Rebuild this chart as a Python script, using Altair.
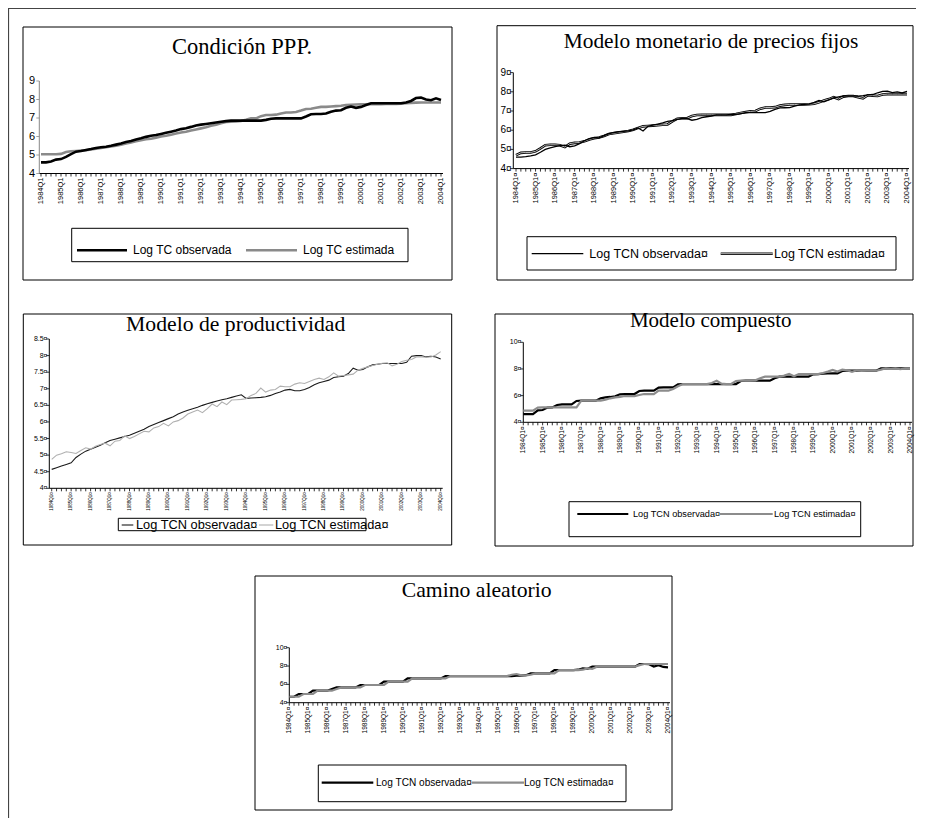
import altair as alt
import pandas as pd

YEARS = list(range(1984, 2005))
Q = list(range(81))  # 1984Q1 .. 2004Q1

# ---------------- data ----------------
P1_OBS = [4.60, 4.60, 4.65, 4.75, 4.78,
          4.90, 5.05, 5.18, 5.22, 5.27, 5.32, 5.38, 5.42, 5.45, 5.50, 5.56, 5.62,
          5.70, 5.76, 5.84, 5.90, 5.98, 6.04, 6.08, 6.14, 6.20, 6.26, 6.32, 6.40,
          6.45, 6.52, 6.60, 6.64, 6.68, 6.72, 6.76, 6.80, 6.83, 6.86, 6.86, 6.86,
          6.86, 6.86, 6.86, 6.86, 6.90, 6.96, 6.98, 6.98, 6.98, 6.98, 6.98, 6.98,
          7.08, 7.20, 7.22, 7.22, 7.24, 7.34, 7.40, 7.42, 7.55, 7.62, 7.55, 7.60,
          7.70, 7.80, 7.80, 7.80, 7.80, 7.80, 7.80, 7.80, 7.84, 7.92, 8.08, 8.10,
          8.00, 7.96, 8.06, 7.97]
P1_EST = [5.04, 5.04, 5.04, 5.04, 5.06,
          5.16, 5.20, 5.22, 5.24, 5.26, 5.30, 5.34, 5.38, 5.42, 5.46, 5.50, 5.56,
          5.62, 5.68, 5.74, 5.80, 5.85, 5.88, 5.94, 6.00, 6.04, 6.10, 6.16, 6.22,
          6.26, 6.32, 6.38, 6.44, 6.50, 6.58, 6.64, 6.72, 6.78, 6.80, 6.82, 6.84,
          6.90, 6.98, 6.98, 7.10, 7.16, 7.16, 7.18, 7.24, 7.30, 7.30, 7.32, 7.40,
          7.49, 7.50, 7.55, 7.60, 7.60, 7.62, 7.64, 7.66, 7.70, 7.72, 7.73, 7.74,
          7.74, 7.75, 7.75, 7.75, 7.76, 7.76, 7.76, 7.77, 7.80, 7.82, 7.83, 7.84,
          7.84, 7.84, 7.84, 7.84]

P2_OBS = [4.60, 4.60, 4.62, 4.66, 4.72,
          4.85, 5.00, 5.08, 5.15, 5.20, 5.22, 5.14, 5.18, 5.30, 5.45, 5.56, 5.62,
          5.60, 5.72, 5.82, 5.88, 5.92, 5.94, 5.96, 6.02, 6.12, 5.96, 6.20, 6.26,
          6.32, 6.38, 6.46, 6.50, 6.56, 6.62, 6.60, 6.52, 6.56, 6.66, 6.70, 6.74,
          6.80, 6.80, 6.80, 6.82, 6.82, 6.86, 6.92, 6.92, 6.92, 6.92, 6.92, 6.98,
          7.08, 7.16, 7.17, 7.18, 7.25, 7.32, 7.34, 7.36, 7.45, 7.55, 7.48, 7.58,
          7.68, 7.74, 7.78, 7.78, 7.78, 7.78, 7.80, 7.84, 7.86, 7.95, 8.02, 8.03,
          7.96, 8.00, 7.94, 8.02]
P2_EST = [4.70, 4.82, 4.84, 4.84, 4.90,
          5.05, 5.22, 5.24, 5.24, 5.22, 5.12, 5.30, 5.34, 5.36, 5.42, 5.52, 5.58,
          5.62, 5.70, 5.80, 5.84, 5.88, 5.92, 5.96, 6.02, 6.12, 6.20, 6.22, 6.24,
          6.26, 6.28, 6.30, 6.46, 6.60, 6.62, 6.62, 6.74, 6.79, 6.80, 6.80, 6.80,
          6.80, 6.80, 6.80, 6.80, 6.84, 6.90, 6.94, 6.98, 7.00, 7.12, 7.18, 7.18,
          7.20, 7.28, 7.32, 7.34, 7.34, 7.34, 7.34, 7.35, 7.38, 7.45, 7.55, 7.62,
          7.72, 7.62, 7.75, 7.78, 7.78, 7.72, 7.66, 7.82, 7.80, 7.78, 7.86, 7.88,
          7.88, 7.88, 7.88, 7.88]

P3_OBS = [4.57, 4.62, 4.67, 4.72, 4.77,
          4.93, 5.03, 5.12, 5.18, 5.24, 5.30, 5.37, 5.44, 5.48, 5.52, 5.56, 5.60,
          5.66, 5.72, 5.78, 5.86, 5.92, 5.98, 6.04, 6.10, 6.16, 6.24, 6.30, 6.35,
          6.40, 6.44, 6.50, 6.55, 6.59, 6.63, 6.67, 6.70, 6.74, 6.78, 6.82, 6.71,
          6.72, 6.73, 6.74, 6.76, 6.80, 6.86, 6.90, 6.96, 6.98, 6.94, 6.94, 6.98,
          7.04, 7.12, 7.18, 7.22, 7.26, 7.34, 7.36, 7.38, 7.46, 7.62, 7.56, 7.58,
          7.66, 7.72, 7.74, 7.76, 7.76, 7.76, 7.76, 7.76, 7.80, 7.98, 8.00, 8.00,
          7.96, 7.98, 7.96, 7.90]
P3_EST = [4.87, 5.00, 5.04, 5.10, 5.08,
          5.05, 5.14, 5.22, 5.18, 5.27, 5.32, 5.36, 5.28, 5.42, 5.44, 5.58, 5.50,
          5.56, 5.64, 5.72, 5.70, 5.82, 5.86, 5.96, 5.88, 6.00, 6.04, 6.12, 6.24,
          6.30, 6.36, 6.28, 6.40, 6.54, 6.46, 6.60, 6.52, 6.66, 6.67, 6.68, 6.70,
          6.80, 6.86, 7.02, 6.90, 6.96, 6.98, 7.08, 7.06, 7.06, 7.14, 7.18, 7.16,
          7.22, 7.28, 7.32, 7.28, 7.36, 7.48, 7.38, 7.40, 7.42, 7.44, 7.56, 7.62,
          7.66, 7.70, 7.74, 7.77, 7.78, 7.69, 7.74, 7.82, 7.86, 7.88, 7.96, 7.96,
          7.95, 7.96, 8.02, 8.12]

P4_OBS = [4.62, 4.62, 4.62, 4.90, 4.92,
          5.10, 5.12, 5.30, 5.35, 5.35, 5.35, 5.60, 5.62, 5.62, 5.62, 5.62, 5.80,
          5.87, 5.90, 5.95, 6.10, 6.12, 6.12, 6.12, 6.35, 6.37, 6.37, 6.37, 6.60,
          6.62, 6.62, 6.62, 6.85, 6.87, 6.87, 6.87, 6.87, 6.87, 6.87, 6.87, 6.87,
          6.87, 6.87, 6.87, 6.87, 7.10, 7.12, 7.12, 7.12, 7.12, 7.12, 7.12, 7.30,
          7.42, 7.42, 7.42, 7.42, 7.42, 7.42, 7.42, 7.60, 7.62, 7.64, 7.66, 7.67,
          7.67, 7.85, 7.87, 7.87, 7.87, 7.87, 7.87, 7.87, 7.87, 8.05, 8.05, 8.05,
          8.05, 8.05, 8.05, 8.05]
P4_EST = [4.87, 4.87, 4.87, 5.10, 5.12,
          5.12, 5.12, 5.12, 5.12, 5.12, 5.12, 5.12, 5.62, 5.62, 5.62, 5.62, 5.62,
          5.70, 5.80, 5.87, 5.90, 5.97, 5.97, 5.97, 6.05, 6.12, 6.12, 6.12, 6.37,
          6.37, 6.37, 6.50, 6.70, 6.87, 6.87, 6.87, 6.87, 6.87, 6.87, 6.95, 7.12,
          6.90, 6.87, 6.87, 7.10, 7.12, 7.12, 7.12, 7.15, 7.30, 7.42, 7.42, 7.42,
          7.42, 7.50, 7.62, 7.45, 7.62, 7.62, 7.62, 7.62, 7.62, 7.70, 7.80, 7.92,
          7.80, 7.95, 7.90, 7.78, 7.90, 7.85, 7.87, 7.87, 7.87, 7.95, 8.05, 8.00,
          8.05, 7.98, 8.05, 8.05]

P5_OBS = [4.65, 4.65, 4.95, 4.95, 4.95,
          5.31, 5.31, 5.31, 5.31, 5.50, 5.67, 5.67, 5.67, 5.67, 5.67, 5.93, 5.93,
          5.93, 5.93, 5.93, 6.29, 6.29, 6.29, 6.29, 6.29, 6.65, 6.65, 6.65, 6.65,
          6.65, 6.65, 6.65, 6.65, 6.91, 6.91, 6.91, 6.91, 6.91, 6.91, 6.91, 6.91,
          6.91, 6.91, 6.91, 6.91, 6.91, 6.91, 6.91, 6.95, 6.95, 7.00, 7.20, 7.20,
          7.20, 7.20, 7.20, 7.56, 7.56, 7.56, 7.56, 7.56, 7.60, 7.75, 7.70, 7.93,
          7.93, 7.93, 7.93, 7.93, 7.93, 7.93, 7.93, 7.93, 7.93, 8.22, 8.22, 8.20,
          7.95, 8.10, 7.90, 7.85]
P5_EST = [4.65, 4.65, 4.65, 4.95, 4.95,
          4.95, 5.31, 5.31, 5.31, 5.31, 5.50, 5.67, 5.67, 5.67, 5.67, 5.67, 5.93,
          5.93, 5.93, 5.93, 5.93, 6.29, 6.29, 6.29, 6.29, 6.29, 6.65, 6.65, 6.65,
          6.65, 6.65, 6.65, 6.65, 6.65, 6.91, 6.91, 6.91, 6.91, 6.91, 6.91, 6.91,
          6.91, 6.91, 6.91, 6.91, 6.91, 6.91, 7.05, 7.13, 6.98, 6.98, 7.05, 7.20,
          7.20, 7.20, 7.20, 7.20, 7.56, 7.56, 7.56, 7.56, 7.56, 7.60, 7.75, 7.70,
          7.93, 7.93, 7.93, 7.93, 7.93, 7.93, 7.93, 7.93, 7.93, 8.10, 8.22, 8.22,
          8.22, 8.22, 8.22, 8.22]

P1_YT = [4, 5, 6, 7, 8, 9]
P1_YL = ["4", "5", "6", "7", "8", "9"]
P2_YT = [4, 5, 6, 7, 8, 9]
P2_YL = ["4¤", "5¤", "6¤", "7¤", "8¤", "9¤"]
P3_YT = [4, 4.5, 5, 5.5, 6, 6.5, 7, 7.5, 8, 8.5]
P3_YL = ["4¤", "4.5¤", "5¤", "5.5¤", "6¤", "6.5¤", "7¤", "7.5¤", "8¤", "8.5¤"]
P45_YT = [4, 6, 8, 10]
P45_YL = ["4¤", "6¤", "8¤", "10¤"]

TITLES = ["Condición PPP.", "Modelo monetario de precios fijos",
          "Modelo de productividad", "Modelo compuesto", "Camino aleatorio"]
LEG1 = ["Log TC observada", "Log TC estimada"]
LEG = ["Log TCN observada¤", "Log TCN estimada¤"]

SANS = "'Liberation Sans', Arial, sans-serif"
SERIF = "'Liberation Serif', 'Times New Roman', serif"

ONE = alt.Data(values=[{"k": 0}])


def box(x0, x1, y0, y1, stroke="black", sw=1.0):
    return alt.Chart(ONE).mark_rect(fill="white", stroke=stroke, strokeWidth=sw).encode(
        x=alt.value(x0), x2=alt.value(x1), y=alt.value(y0), y2=alt.value(y1))


def seg(x0, x1, y0, y1, color="black", sw=1.0):
    return alt.Chart(ONE).mark_rule(color=color, strokeWidth=sw).encode(
        x=alt.value(x0), x2=alt.value(x1), y=alt.value(y0), y2=alt.value(y1))


def txt(s, x, y, size, font=SANS, align="left", baseline="middle"):
    return alt.Chart(ONE).mark_text(text=s, font=font, fontSize=size, align=align,
                                    baseline=baseline, color="black").encode(
        x=alt.value(x), y=alt.value(y))


def panel(obs, est, xr, ydom, yr, yvals, ylabels, suffix, xlab_size,
          ylab_size, ylab_x, axis_x, draw, yaxis_color="black"):
    df = pd.DataFrame({"t": Q, "obs": obs, "est": est})
    xs = alt.Scale(domain=[0, 80], range=xr, nice=False, zero=False)
    ys = alt.Scale(domain=ydom, range=yr, nice=False, zero=False)
    X = alt.X("t:Q", scale=xs, axis=None)
    layers = []
    # axis lines
    layers.append(seg(axis_x, xr[1] + 2, yr[0], yr[0], "black", 1))
    layers.append(seg(axis_x, axis_x, yr[1], yr[0], yaxis_color, 1))
    # quarter ticks
    layers.append(alt.Chart(pd.DataFrame({"t": Q})).mark_rule(color="black", strokeWidth=0.8).encode(
        x=X, y=alt.value(yr[0]), y2=alt.value(yr[0] + 3)))
    # year labels
    ydf = pd.DataFrame({"t": [4 * i for i in range(len(YEARS))],
                        "lab": [f"{y}Q1{suffix}" for y in YEARS]})
    layers.append(alt.Chart(ydf).mark_text(angle=270, align="right", baseline="middle",
                                           font=SANS, fontSize=xlab_size, color="black").encode(
        x=X, y=alt.value(yr[0] + 4), text="lab:N"))
    # y ticks and labels
    vdf = pd.DataFrame({"v": yvals, "lab": ylabels})
    Y = alt.Y("v:Q", scale=ys, axis=None)
    layers.append(alt.Chart(vdf).mark_rule(color=yaxis_color, strokeWidth=0.8).encode(
        x=alt.value(axis_x - 3), x2=alt.value(axis_x), y=Y))
    layers.append(alt.Chart(vdf).mark_text(align="right", baseline="middle", font=SANS,
                                           fontSize=ylab_size, color="black").encode(
        x=alt.value(ylab_x), y=Y, text="lab:N"))
    # series
    for field, color, width in draw:
        layers.append(alt.Chart(df).mark_line(color=color, strokeWidth=width).encode(
            x=X, y=alt.Y(f"{field}:Q", scale=ys, axis=None)))
    return alt.layer(*layers)


layers = []
# outer frame (left and top edges)
layers.append(seg(0.5, 0.5, 0, 810, "#444", 1.2))
layers.append(seg(0, 908, 0.5, 0.5, "#444", 1.2))

# panel boxes
layers.append(box(15, 444, 19, 272))
layers.append(box(489, 905, 17.7, 272))
layers.append(box(15.3, 443.7, 306, 537))
layers.append(box(487, 905, 306, 538))
layers.append(box(247, 664, 568, 802))

# ---- panel 1
layers.append(panel(P1_OBS, P1_EST, [33, 433], [4, 9], [165.5, 73], P1_YT, P1_YL, "",
                    7.5, 11, 27, 31.3,
                    [("est", "#8a8a8a", 2.6), ("obs", "black", 2.6)], yaxis_color="#888"))
layers.append(txt(TITLES[0], 234, 46.3, 22.5, SERIF, "center", "alphabetic"))
layers.append(box(63.7, 400, 220.3, 253.7))
layers.append(seg(69, 119, 242.3, 242.3, "black", 2.6))
layers.append(txt(LEG1[0], 125, 242.3, 12))
layers.append(seg(238, 289, 242.3, 242.3, "#8a8a8a", 2.6))
layers.append(txt(LEG1[1], 295, 242.3, 12))

# ---- panel 2
layers.append(panel(P2_OBS, P2_EST, [508, 899], [4, 9], [160.6, 64.6], P2_YT, P2_YL, "¤",
                    7.5, 10, 503.5, 505.3,
                    [("est", "black", 2.6), ("est", "#d0d0d0", 0.9), ("obs", "black", 1.3)]))
layers.append(txt(TITLES[1], 703, 40.3, 21.4, SERIF, "center", "alphabetic"))
layers.append(box(519, 888, 228.7, 262))
layers.append(seg(523.7, 575.3, 245.7, 245.7, "black", 1.3))
layers.append(txt(LEG[0], 581.3, 245.7, 12.5))
layers.append(seg(712.7, 764.7, 245.7, 245.7, "black", 2.6))
layers.append(seg(712.7, 764.7, 245.7, 245.7, "#d0d0d0", 0.9))
layers.append(txt(LEG[1], 766, 245.7, 12.5))

# ---- panel 3
layers.append(panel(P3_OBS, P3_EST, [43.7, 432.7], [4, 8.5], [480.3, 331], P3_YT, P3_YL, "¤",
                    4.5, 7, 39.5, 41.3,
                    [("obs", "#1a1a1a", 1.1), ("est", "#b0b0b0", 1.1)]))
layers.append(txt(TITLES[2], 227.7, 322.7, 21.7, SERIF, "center", "alphabetic"))
layers.append(box(110.3, 358, 510.3, 522.7))
layers.append(seg(113.7, 125.3, 517, 517, "#1a1a1a", 1.1))
layers.append(txt(LEG[0], 128, 517, 12.8))
layers.append(seg(251, 265.3, 517, 517, "#b0b0b0", 1.1))
layers.append(txt(LEG[1], 267, 517, 12.8))

# ---- panel 4
layers.append(panel(P4_OBS, P4_EST, [515.3, 902], [4, 10], [414.3, 334.3], P45_YT, P45_YL, "¤",
                    6.6, 7, 513.5, 515.3,
                    [("obs", "black", 2.2), ("est", "#8c8c8c", 2.2)]))
layers.append(txt(TITLES[3], 702.7, 318.7, 21, SERIF, "center", "alphabetic"))
layers.append(box(561, 852.7, 493.7, 528.7))
layers.append(seg(569.3, 620.3, 506, 506, "black", 2.2))
layers.append(txt(LEG[0], 625, 506, 9.2))
layers.append(seg(712, 764.7, 506, 506, "#8c8c8c", 2.2))
layers.append(txt(LEG[1], 766, 506, 9.2))

# ---- panel 5
layers.append(panel(P5_OBS, P5_EST, [281.3, 660], [4, 10], [694.7, 639.7], P45_YT, P45_YL, "¤",
                    6.5, 7, 279.5, 281.3,
                    [("obs", "black", 2.2), ("est", "#8c8c8c", 2.2)]))
layers.append(txt(TITLES[4], 468.7, 588.7, 21.7, SERIF, "center", "alphabetic"))
layers.append(box(310.3, 618, 757, 793.7))
layers.append(seg(313.7, 365.3, 774.7, 774.7, "black", 2.2))
layers.append(txt(LEG[0], 368, 774.7, 10.1))
layers.append(seg(463.7, 516, 774.7, 774.7, "#8c8c8c", 2.2))
layers.append(txt(LEG[1], 516, 774.7, 10.1))

chart = alt.layer(*layers).resolve_scale(x="independent", y="independent").properties(
    width=908, height=810, autosize=alt.AutoSizeParams(type="none"), padding=0,
    background="white"
).configure_view(stroke=None)

chart.save("out.html", embed_options={"renderer": "svg", "actions": False})
